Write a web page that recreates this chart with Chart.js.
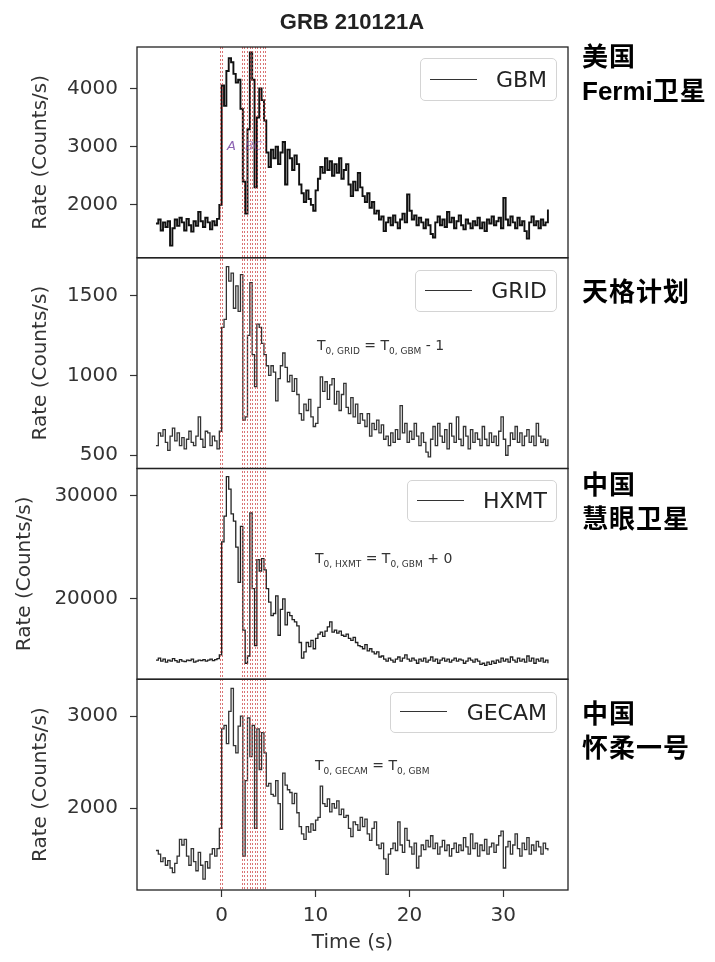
<!DOCTYPE html>
<html>
<head>
<meta charset="utf-8">
<script src="https://cdn.jsdelivr.net/npm/chart.js@4.4.1/dist/chart.umd.min.js"></script>
<style>
html,body{margin:0;padding:0;background:#fff;}
#wrap{position:relative;width:715px;height:962px;overflow:hidden;background:#fff;}
#c{position:absolute;left:0;top:0;}
.title{position:absolute;top:9px;left:252px;width:200px;text-align:center;font:bold 22px "Liberation Sans",Arial,sans-serif;line-height:26px;color:#222;}
.cn{position:absolute;left:582px;font-family:"Noto Sans CJK SC",sans-serif;font-weight:700;font-size:26px;line-height:34px;letter-spacing:1px;color:#000;white-space:nowrap;}
.cn .lat{font-family:"Liberation Sans",Arial,sans-serif;font-weight:700;letter-spacing:0;}
.leg{position:absolute;border:1px solid #d4d4d4;border-radius:5px;background:rgba(255,255,255,0.85);box-sizing:border-box;}
.leg .ln{position:absolute;left:9px;width:47px;height:0;border-top:1.6px solid #333;}
.leg .tx{position:absolute;right:9px;top:0;font-family:"DejaVu Sans",sans-serif;font-size:22px;color:#222;}
.eq{position:absolute;font-family:"DejaVu Sans",sans-serif;font-size:14px;line-height:20px;color:#333;white-space:nowrap;}
.eq sub{font-size:9px;}
</style>
</head>
<body>
<div id="wrap">
<canvas id="c" width="715" height="962"></canvas>
<div class="title">GRB 210121A</div>
<div class="cn" style="top:38px">美国<br><span class="lat">Fermi</span>卫星</div>
<div class="cn" style="top:273px">天格计划</div>
<div class="cn" style="top:466px">中国<br>慧眼卫星</div>
<div class="cn" style="top:695px">中国<br>怀柔一号</div>

<div class="leg" style="left:420px;top:58px;width:137px;height:43px;"><div class="ln" style="top:20px"></div><div class="tx" style="line-height:41px">GBM</div></div>
<div class="leg" style="left:415px;top:270px;width:142px;height:42px;"><div class="ln" style="top:19px"></div><div class="tx" style="line-height:40px">GRID</div></div>
<div class="leg" style="left:407px;top:480px;width:150px;height:42px;"><div class="ln" style="top:19px"></div><div class="tx" style="line-height:40px">HXMT</div></div>
<div class="leg" style="left:390px;top:692px;width:167px;height:41px;"><div class="ln" style="top:18px"></div><div class="tx" style="line-height:39px">GECAM</div></div>

<div class="eq" style="left:317px;top:335px">T<sub>0, GRID</sub> = T<sub>0, GBM</sub> - 1</div>
<div class="eq" style="left:315px;top:548px">T<sub>0, HXMT</sub> = T<sub>0, GBM</sub> + 0</div>
<div class="eq" style="left:315px;top:755px">T<sub>0, GECAM</sub> = T<sub>0, GBM</sub></div>
</div>
<script>
// time bins (s): first bin start and bin width
const binStart = -7;
const binWidth = 0.25;

// tick labels
const xTickValues = [0, 10, 20, 30];
const gbmTicks = [2000, 3000, 4000];
const gridTicks = [500, 1000, 1500];
const hxmtTicks = [20000, 30000];
const gecamTicks = [2000, 3000];

// Fermi/GBM rate (Counts/s)
const gbmRate = [
 1680,1750,1560,1700,1620,1720,1300,1600,1750,1640,1780,1700,1560,1760,1650,1540,1720,1640,1880,1720,1620,1780,1700,1580,1720,1650,1760,2000,
 4050,3700,4300,4520,4450,4250,4100,4150,3650,2400,1850,3300,4620,4150,2300,3500,4000,3800,3450,2900,
 2650,2950,2800,3000,2700,2900,3080,2350,2950,2800,2600,2850,
 2700,2350,2200,2050,2250,2100,2000,1900,
 2250,2450,2650,2550,2800,2600,2750,2500,2700,2550,2800,2450,2600,2700,
 2350,2150,2400,2250,2550,2300,2150,2050,2200,1950,2050,1850,1900,1750,1800,1550,
 1700,1780,1650,1820,1700,1600,1750,1850,1700,2180,1900,1750,1820,1650,1780,1700,1600,1750,1650,1500,
 1440,1700,1800,1650,1750,1620,1880,1700,1780,1600,1720,1820,1650,1580,1750,1680,1600,1720,1650,1780,
 1600,1700,1550,1750,1680,1800,1650,1720,1780,1600,2120,1750,1650,1800,1700,1600,1780,1650,1720,1550,
 1420,1700,1800,1650,1720,1600,1750,1650,1700,1920
];

// GRID rate (Counts/s)
const gridRate = [
 560,640,620,660,580,530,620,670,590,640,560,610,540,600,650,580,560,620,740,600,550,650,640,560,620,590,540,650,
 1300,1350,1680,1590,1640,1420,1560,1400,1630,720,740,1250,1580,1130,930,1320,1300,1200,1130,1060,
 1000,1060,1020,840,980,1060,1140,1050,960,1000,900,980,
 880,760,720,820,780,850,740,680,
 700,800,990,900,960,850,940,980,820,900,780,880,950,800,
 760,860,740,820,700,760,720,680,760,620,700,660,720,640,690,600,
 620,560,640,580,660,600,810,640,700,580,650,600,700,620,560,640,580,520,490,600,
 680,560,700,620,580,660,540,700,620,580,740,600,560,680,620,540,660,580,640,600,
 560,680,600,560,640,580,620,560,650,740,600,500,560,640,600,680,580,640,560,620,
 660,580,620,560,700,620,580,600,560,600
];

// Insight-HXMT rate (Counts/s)
const hxmtRate = [
 14100,14300,14000,14200,13900,14100,14000,14250,14050,13900,14150,14000,13950,14100,14050,14200,13900,14000,14100,14050,14150,14000,14100,14200,14050,14150,14250,14600,
 25500,28000,31800,30600,28200,27500,25000,21600,27000,17000,13800,14500,28300,21000,15500,23800,22700,23900,22800,21000,
 19700,18400,18600,20300,16500,19000,20000,17500,18700,18400,18000,17800,
 17400,15800,14300,14900,15800,15400,16000,15200,
 16200,16600,16800,16400,16900,17300,17800,16800,17000,16700,16900,16500,16400,16600,
 16200,16000,16300,15800,15500,15400,15200,15600,15000,15200,14900,14700,14900,14400,14500,14200,
 14000,14300,14100,13900,14200,14400,14000,14300,14600,14200,14000,14300,14100,13800,14200,14000,14300,13900,14100,14400,
 14000,14200,13800,14100,14300,14000,14200,13900,14100,14300,14000,14200,14100,13800,14000,14300,14100,13900,14200,14000,
 13700,13800,13600,13900,13700,14000,13800,14100,13900,14300,14000,14200,13900,14400,14100,13900,14300,14000,14200,13900,
 14500,14000,14300,13800,14200,14000,14300,13900,14100,13800
];

// GECAM rate (Counts/s)
const gecamRate = [
 1540,1500,1420,1460,1380,1430,1350,1300,1400,1480,1660,1600,1660,1480,1380,1560,1420,1320,1520,1380,1230,1420,1350,1500,1560,1480,1560,1780,
 2860,2900,2700,3050,3300,2680,2600,2890,3000,1480,2300,2980,2560,2900,1780,2860,2420,2820,2600,2240,
 2270,2150,2130,2300,2050,1770,2380,2250,2200,2170,2050,2160,
 1950,1800,1720,1660,1800,1740,1830,1760,
 1870,1900,2240,2050,2020,2100,1960,2050,2000,2080,1930,1990,1900,1920,
 1780,1690,1850,1820,1760,1900,1800,1880,1720,1650,1780,1850,1600,1560,1620,1450,
 1280,1500,1560,1620,1540,1850,1600,1520,1780,1650,1580,1500,1620,1350,1480,1600,1550,1650,1580,1700,
 1560,1620,1500,1580,1650,1540,1600,1480,1560,1620,1520,1600,1540,1680,1580,1500,1720,1560,1620,1480,
 1600,1540,1660,1500,1580,1620,1520,1600,1700,1750,1350,1580,1640,1500,1600,1720,1560,1480,1620,1550,
 1680,1500,1600,1540,1640,1580,1500,1620,1560,1540
];

// red dashed interval boundaries (s)
const intervalEdges = [-0.18, 0.06, 2.16, 2.41, 2.66, 3.01, 3.26, 3.52, 3.79, 4.11, 4.37, 4.64];

// pulse labels in the GBM panel
const pulseLabels = ['A', 'B', 'C'];
const pulseLabelTimes = [1.05, 2.95, 3.85];
const pulseLabelRate = 3000;

function toPoints(arr) {
  return arr.map((v, i) => ({x: binStart + i * binWidth, y: v}));
}

const tickFont = {family: 'DejaVu Sans', size: 20};

function yAxis(min, max, tickList, titlePad) {
  return {
    type: 'linear', position: 'left', stack: 'panels', stackWeight: 1,
    min: min, max: max,
    border: {display: false},
    grid: {display: true, drawOnChartArea: false, drawTicks: true, tickLength: 7, color: '#333', tickWidth: 1.2},
    ticks: {padding: 12, color: '#333', font: tickFont, callback: v => String(v)},
    afterBuildTicks(s) { s.ticks = tickList.map(v => ({value: v})); },
    title: {display: true, text: 'Rate (Counts/s)', color: '#333', font: {family: 'DejaVu Sans', size: 20},
            padding: {top: titlePad, bottom: 0}},
    afterFit(s) { s.width = 137; }
  };
}

const panelDecor = {
  id: 'panelDecor',
  afterDatasetsDraw(chart) {
    const {ctx, chartArea, scales} = chart;
    ctx.save();
    // interval lines
    ctx.strokeStyle = 'rgba(205,70,70,0.75)';
    ctx.lineWidth = 1;
    ctx.setLineDash([2, 2]);
    intervalEdges.forEach(t => {
      const x = Math.round(scales.x.getPixelForValue(t)) + 0.5;
      ctx.beginPath();
      ctx.moveTo(x, chartArea.top);
      ctx.lineTo(x, chartArea.bottom);
      ctx.stroke();
    });
    ctx.setLineDash([]);
    // pulse labels
    ctx.font = 'italic 13px "DejaVu Sans"';
    ctx.textAlign = 'center';
    ctx.textBaseline = 'middle';
    pulseLabels.forEach((lab, i) => {
      ctx.fillStyle = i === 0 ? 'rgba(120,70,165,0.85)' : 'rgba(120,70,165,0.55)';
      ctx.fillText(lab, scales.x.getPixelForValue(pulseLabelTimes[i]), scales.yGBM.getPixelForValue(pulseLabelRate));
    });
    // panel frames
    ctx.strokeStyle = '#222';
    ctx.lineWidth = 1.3;
    ['yGBM', 'yGRID', 'yHXMT', 'yGECAM'].forEach(id => {
      const s = scales[id];
      ctx.strokeRect(chartArea.left, s.top, chartArea.right - chartArea.left, s.bottom - s.top);
    });
    ctx.restore();
  }
};

new Chart(document.getElementById('c'), {
  type: 'line',
  data: {
    datasets: [
      {label: 'GBM', data: toPoints(gbmRate), yAxisID: 'yGBM', borderColor: '#111', borderWidth: 1.9, stepped: true, pointRadius: 0, fill: false},
      {label: 'GRID', data: toPoints(gridRate), yAxisID: 'yGRID', borderColor: '#333', borderWidth: 1.3, stepped: true, pointRadius: 0, fill: false},
      {label: 'HXMT', data: toPoints(hxmtRate), yAxisID: 'yHXMT', borderColor: '#222', borderWidth: 1.3, stepped: true, pointRadius: 0, fill: false},
      {label: 'GECAM', data: toPoints(gecamRate), yAxisID: 'yGECAM', borderColor: '#333', borderWidth: 1.3, stepped: true, pointRadius: 0, fill: false}
    ]
  },
  options: {
    responsive: false,
    animation: false,
    devicePixelRatio: 1,
    layout: {padding: {left: 0, right: 147, top: 47, bottom: 0}},
    plugins: {legend: {display: false}, tooltip: {enabled: false}, title: {display: false}},
    scales: {
      x: {
        type: 'linear', position: 'bottom', min: -9.02, max: 36.89,
        border: {display: false},
        grid: {display: true, drawOnChartArea: false, drawTicks: true, tickLength: 7, color: '#333', tickWidth: 1.2},
        ticks: {padding: 7, color: '#333', font: tickFont, maxRotation: 0, autoSkip: false, callback: v => String(v)},
        afterBuildTicks(s) { s.ticks = xTickValues.map(v => ({value: v})); },
        title: {display: true, text: 'Time (s)', color: '#333', font: {family: 'DejaVu Sans', size: 20}, padding: {top: 0, bottom: 7}},
        afterFit(s) { s.height = 72; }
      },
      yGECAM: yAxis(1111, 3400, gecamTicks, 29),
      yHXMT: yAxis(12256, 32585, hxmtTicks, 13),
      yGRID: yAxis(417, 1736, gridTicks, 29),
      yGBM: yAxis(1092, 4712, gbmTicks, 29)
    }
  },
  plugins: [panelDecor]
});
</script>
</body>
</html>
